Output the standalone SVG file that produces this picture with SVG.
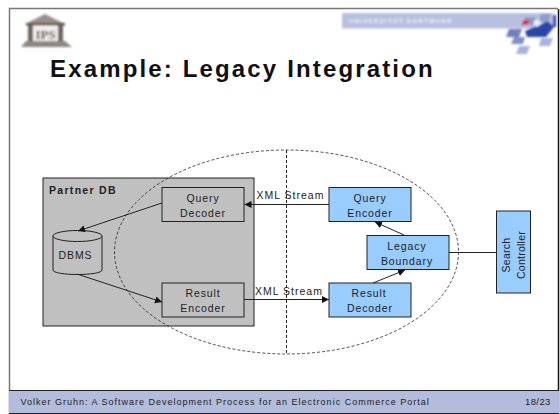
<svg xmlns="http://www.w3.org/2000/svg" width="560" height="414" viewBox="0 0 560 414">
<style>
text{font-family:"Liberation Sans",Arial,sans-serif;fill:#222;font-size:10.5px;letter-spacing:.9px}
.c{text-anchor:middle}
.r{letter-spacing:.25px}
.g{fill:#c0c0c0;stroke:#222;stroke-width:1}
.b{fill:#99ccff;stroke:#222;stroke-width:1}
.l{fill:none;stroke:#222;stroke-width:1}
.d{fill:none;stroke:#222;stroke-width:1;stroke-dasharray:3 2}
</style>
<defs>
<marker id="a" markerWidth="8" markerHeight="8" refX="7" refY="3.5" orient="auto" markerUnits="userSpaceOnUse"><path d="M0 0L7 3.500L0 7Z" fill="#111"/></marker>
<filter id="bl" x="-10%" y="-10%" width="120%" height="120%"><feGaussianBlur stdDeviation="0.9"/></filter>
</defs>
<rect width="560" height="414" fill="#fff"/>
<path d="M9.500 414V8.500H558" fill="none" stroke="#777" stroke-width="1.500"/>
<path d="M558.500 9V414" stroke="#111" stroke-width="1.500"/>
<g id="logo-ips" filter="url(#bl)">
<path d="M25 24L45 14L65 24Z" fill="#9a908a"/>
<rect x="26" y="23" width="39" height="2.500" fill="#5e5650"/>
<rect x="28" y="25" width="5" height="17" fill="#6e655f"/>
<rect x="58" y="25" width="5" height="17" fill="#6e655f"/>
<rect x="33" y="26" width="25" height="15" fill="#f0eeec"/>
<text x="45.500" y="38.500" class="c" style="font-size:13px;letter-spacing:0;fill:#4c443e;font-family:'Liberation Serif',serif;font-weight:bold">IPS</text>
<path d="M21 47L26 41H65L72 47Z" fill="#8d8681"/>
</g>
<g id="banner" filter="url(#bl)">
<rect x="342" y="13" width="211" height="15.500" fill="#b8c0e0"/>
<text x="349" y="23" style="font-size:6px;fill:#f0f2fa;letter-spacing:1.350px;font-weight:bold">UNIVERSITÄT DORTMUND</text>
<path d="M525 31L534 27L548 21L554 27L546 37H527Z" fill="#2a47a8"/>
<path d="M537 27L546 20H528Z" fill="#eef0f8"/>
<path d="M541 14h10l-3 8h-9Z" fill="#8c9ccc"/>
<path d="M525 17h11l-3 8h-11Z" fill="#8c9ccc"/>
<path d="M524 20h6l-3 5h-6Z" fill="#e02020"/>
<path d="M509 29h13l-3 8h-13Z" fill="#6f80bb"/>
<path d="M514 37h11l-2 7h-12Z" fill="#8090c0"/>
<path d="M541 38h12l-3 8h-11Z" fill="#aab4d8"/>
<path d="M519 46h11l-3 8h-11Z" fill="#aab4d8"/>
<path d="M553 15h3v12h-3Z" fill="#2a47a8"/>
</g>
<text id="title" x="50" y="77" style="font-size:24px;font-weight:bold;fill:#111;letter-spacing:2.150px">Example: Legacy Integration</text>
<g id="partner-db"><rect x="43" y="178" width="211" height="148" class="g"/><text x="49" y="194" style="font-weight:bold;letter-spacing:1.300px">Partner DB</text></g>
<g id="query-decoder"><rect x="162" y="187.500" width="82" height="34" class="g"/><text x="203" y="202" class="c">Query</text><text x="203" y="217" class="c">Decoder</text></g>
<g id="result-encoder"><rect x="162" y="283" width="82" height="34" class="g"/><text x="203" y="297" class="c">Result</text><text x="203" y="312" class="c">Encoder</text></g>
<g id="dbms"><path d="M53 236V270C53 276 102 276 102 270V236Z" class="g"/><ellipse cx="77.500" cy="236" rx="24.500" ry="5.500" class="g"/><text x="75.500" y="259" class="c">DBMS</text></g>
<g id="query-encoder"><rect x="329" y="187.500" width="82" height="34" class="b"/><text x="370" y="202" class="c">Query</text><text x="370" y="217" class="c">Encoder</text></g>
<g id="legacy-boundary"><rect x="367" y="235.500" width="82" height="34" class="b"/><text x="407" y="250" class="c">Legacy</text><text x="407" y="265" class="c">Boundary</text></g>
<g id="result-decoder"><rect x="329" y="283" width="82" height="34" class="b"/><text x="369" y="297" class="c">Result</text><text x="370" y="312" class="c">Decoder</text></g>
<g id="search-controller"><rect x="496.500" y="211" width="34" height="82" class="b"/><text transform="translate(510 255) rotate(-90)" class="c r">Search</text><text transform="translate(524.500 255) rotate(-90)" class="c r">Controller</text></g>
<g id="connectors">
<ellipse cx="286.500" cy="252" rx="172" ry="102" class="d" style="stroke-width:.8"/>
<path d="M286.500 150V354" class="d"/>
<path d="M329 204.500H244.500" class="l" marker-end="url(#a)"/>
<path d="M244 299.500H329" class="l" marker-end="url(#a)"/>
<path d="M162 203L78 231" class="l" marker-end="url(#a)"/>
<path d="M77 274L162 302" class="l" marker-end="url(#a)"/>
<path d="M404 235L375 222" class="l" marker-end="url(#a)"/>
<path d="M373 283L405 270" class="l" marker-end="url(#a)"/>
<path d="M449 252.500H496" class="l"/>
<text x="256.500" y="199" style="letter-spacing:1px">XML Stream</text>
<text x="255" y="295" style="letter-spacing:1px">XML Stream</text>
</g>
<g id="footer">
<rect x="9" y="390" width="550" height="23" fill="#b4bcdc"/>
<path d="M9 390.500H559M9 413.500H559" stroke="#222" stroke-width="1"/>
<text x="20.500" y="405" style="font-size:9px;letter-spacing:1px">Volker Gruhn: A Software Development Process for an Electronic Commerce Portal</text>
<text x="525" y="405" style="font-size:9.500px;letter-spacing:.4px">18/23</text>
</g>
</svg>
